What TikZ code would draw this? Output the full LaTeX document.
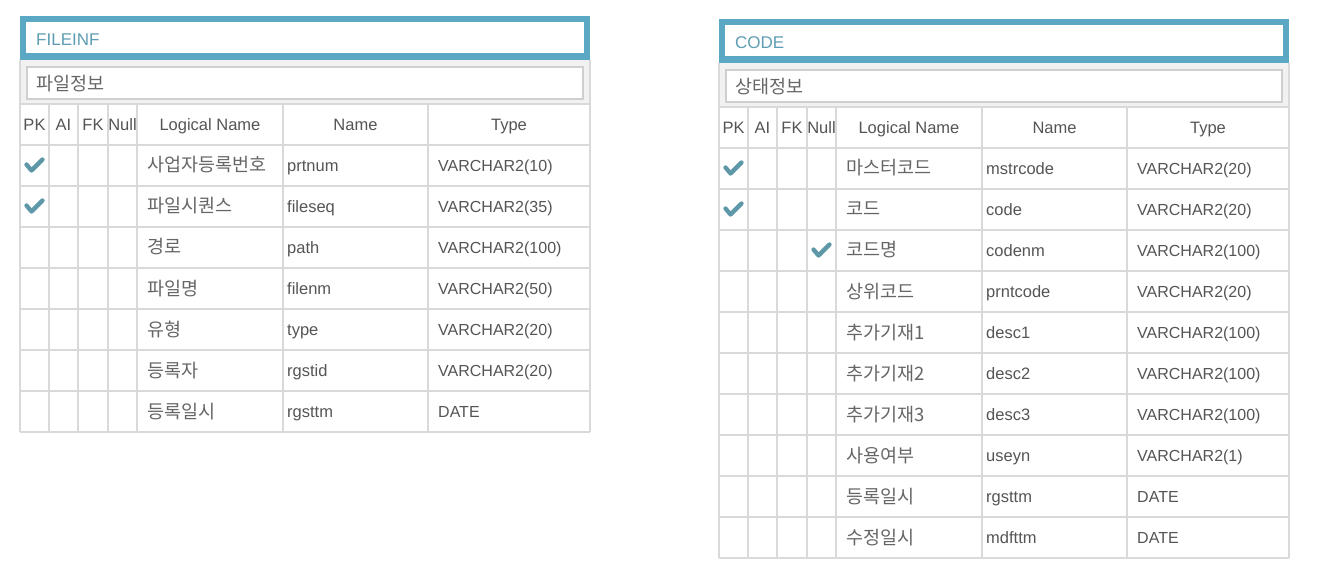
\documentclass[tikz,border=0pt]{standalone}
\usepackage{fontspec}
\setmainfont{Liberation Sans}
\newfontfamily\kr{Noto Sans CJK KR}
\definecolor{tealframe}{HTML}{5AA8C4}
\definecolor{tealtext}{HTML}{5E9DB3}
\definecolor{checkcol}{HTML}{5E97A8}
\definecolor{gridcol}{HTML}{D9D9D9}
\definecolor{panelcol}{HTML}{F1F1F1}
\definecolor{boxcol}{HTML}{CFCFCF}
\definecolor{txtcol}{HTML}{555555}
\definecolor{krcol}{HTML}{666666}
\tikzset{
  cell/.style={inner sep=0pt, text height=12pt, text depth=0pt, anchor=west,
    text=txtcol, font=\fontsize{16.5}{19}\selectfont},
  krcell/.style={cell, text=krcol, text height=13pt, font=\kr\fontsize{18.5}{21}\selectfont},
  typecell/.style={cell, font=\fontsize{16}{19}\selectfont},
  headcell/.style={cell, anchor=center},
  titlecell/.style={cell, text=tealtext, font=\fontsize{17}{19}\selectfont},
  gridline/.style={draw=gridcol, line width=1.4pt},
  checkmark/.style={draw=checkcol, line width=4.3pt, line cap=round, line join=round}
}
\newcommand\erdtable[6]{%
\begin{scope}[shift={(#2,#3)}]
  % title bar
  \fill[tealframe] (0,0) rectangle (570,44);
  \fill[white] (6,6) rectangle (564,37);
  \node[titlecell] (#1-title) at (16,24) {#4};
  % panel with subtitle box
  \fill[panelcol] (0,44) rectangle (570,88);
  \draw[boxcol, line width=1.2pt, fill=white] (7,51) rectangle (563,83);
  \node[krcell] (#1-sub) at (16,68) {#5};
  \draw[gridline] (0,44) -- (0,88) (570,44) -- (570,88);
  % header row
  \node[headcell] (#1-hpk) at (14.5,108.5) {PK};
  \node[headcell] (#1-hai) at (43.5,108.5) {AI};
  \node[headcell] (#1-hfk) at (73,108.5) {FK};
  \node[headcell] (#1-hnull) at (102.5,108.5) {Null};
  \node[headcell] (#1-hlog) at (190,108.5) {Logical Name};
  \node[headcell] (#1-hname) at (335.5,108.5) {Name};
  \node[headcell] (#1-htype) at (489,108.5) {Type};
  \draw[gridline] (0,88) -- (570,88) (0,129) -- (570,129);
  \foreach \pk/\nl/\lg/\nm/\ty [count=\i] in {#6}{
    \pgfmathsetmacro\ry{129+41*(\i-1)+20.5}
    \pgfmathsetmacro\rb{129+41*\i}
    \node[krcell] (#1-lg-\i) at (127,\ry) {\lg};
    \node[cell] (#1-nm-\i) at (267,\ry) {\nm};
    \node[typecell] (#1-ty-\i) at (418,\ry) {\ty};
    \draw[gridline] (0,\rb) -- (570,\rb);
    \ifnum\pk=1
      \coordinate (#1-pk-\i) at (14.5,\ry);
      \draw[checkmark] ([shift={(-8,-1)}]#1-pk-\i) -- ++(5,6) -- ++(11,-11);
    \fi
    \ifnum\nl=1
      \coordinate (#1-nl-\i) at (102.5,\ry);
      \draw[checkmark] ([shift={(-8,-1)}]#1-nl-\i) -- ++(5,6) -- ++(11,-11);
    \fi
    \xdef\lastrb{\rb}
  }
  \foreach \cx in {0,29,58,88,117,263,408,570}{
    \draw[gridline] (\cx,88) -- (\cx,\lastrb);
  }
\end{scope}}
\begin{document}
\begin{tikzpicture}[x=1pt,y=-1pt]
\useasboundingbox (0,0) rectangle (1328,572);
\fill[white] (0,0) rectangle (1328,572);
\erdtable{fileinf}{20}{16}{FILEINF}{파일정보}{
  1/0/사업자등록번호/prtnum/VARCHAR2(10),
  1/0/파일시퀀스/fileseq/VARCHAR2(35),
  0/0/경로/path/VARCHAR2(100),
  0/0/파일명/filenm/VARCHAR2(50),
  0/0/유형/type/VARCHAR2(20),
  0/0/등록자/rgstid/VARCHAR2(20),
  0/0/등록일시/rgsttm/DATE}
\erdtable{code}{719}{19}{CODE}{상태정보}{
  1/0/마스터코드/mstrcode/VARCHAR2(20),
  1/0/코드/code/VARCHAR2(20),
  0/1/코드명/codenm/VARCHAR2(100),
  0/0/상위코드/prntcode/VARCHAR2(20),
  0/0/추가기재1/desc1/VARCHAR2(100),
  0/0/추가기재2/desc2/VARCHAR2(100),
  0/0/추가기재3/desc3/VARCHAR2(100),
  0/0/사용여부/useyn/VARCHAR2(1),
  0/0/등록일시/rgsttm/DATE,
  0/0/수정일시/mdfttm/DATE}
\end{tikzpicture}
\end{document}
